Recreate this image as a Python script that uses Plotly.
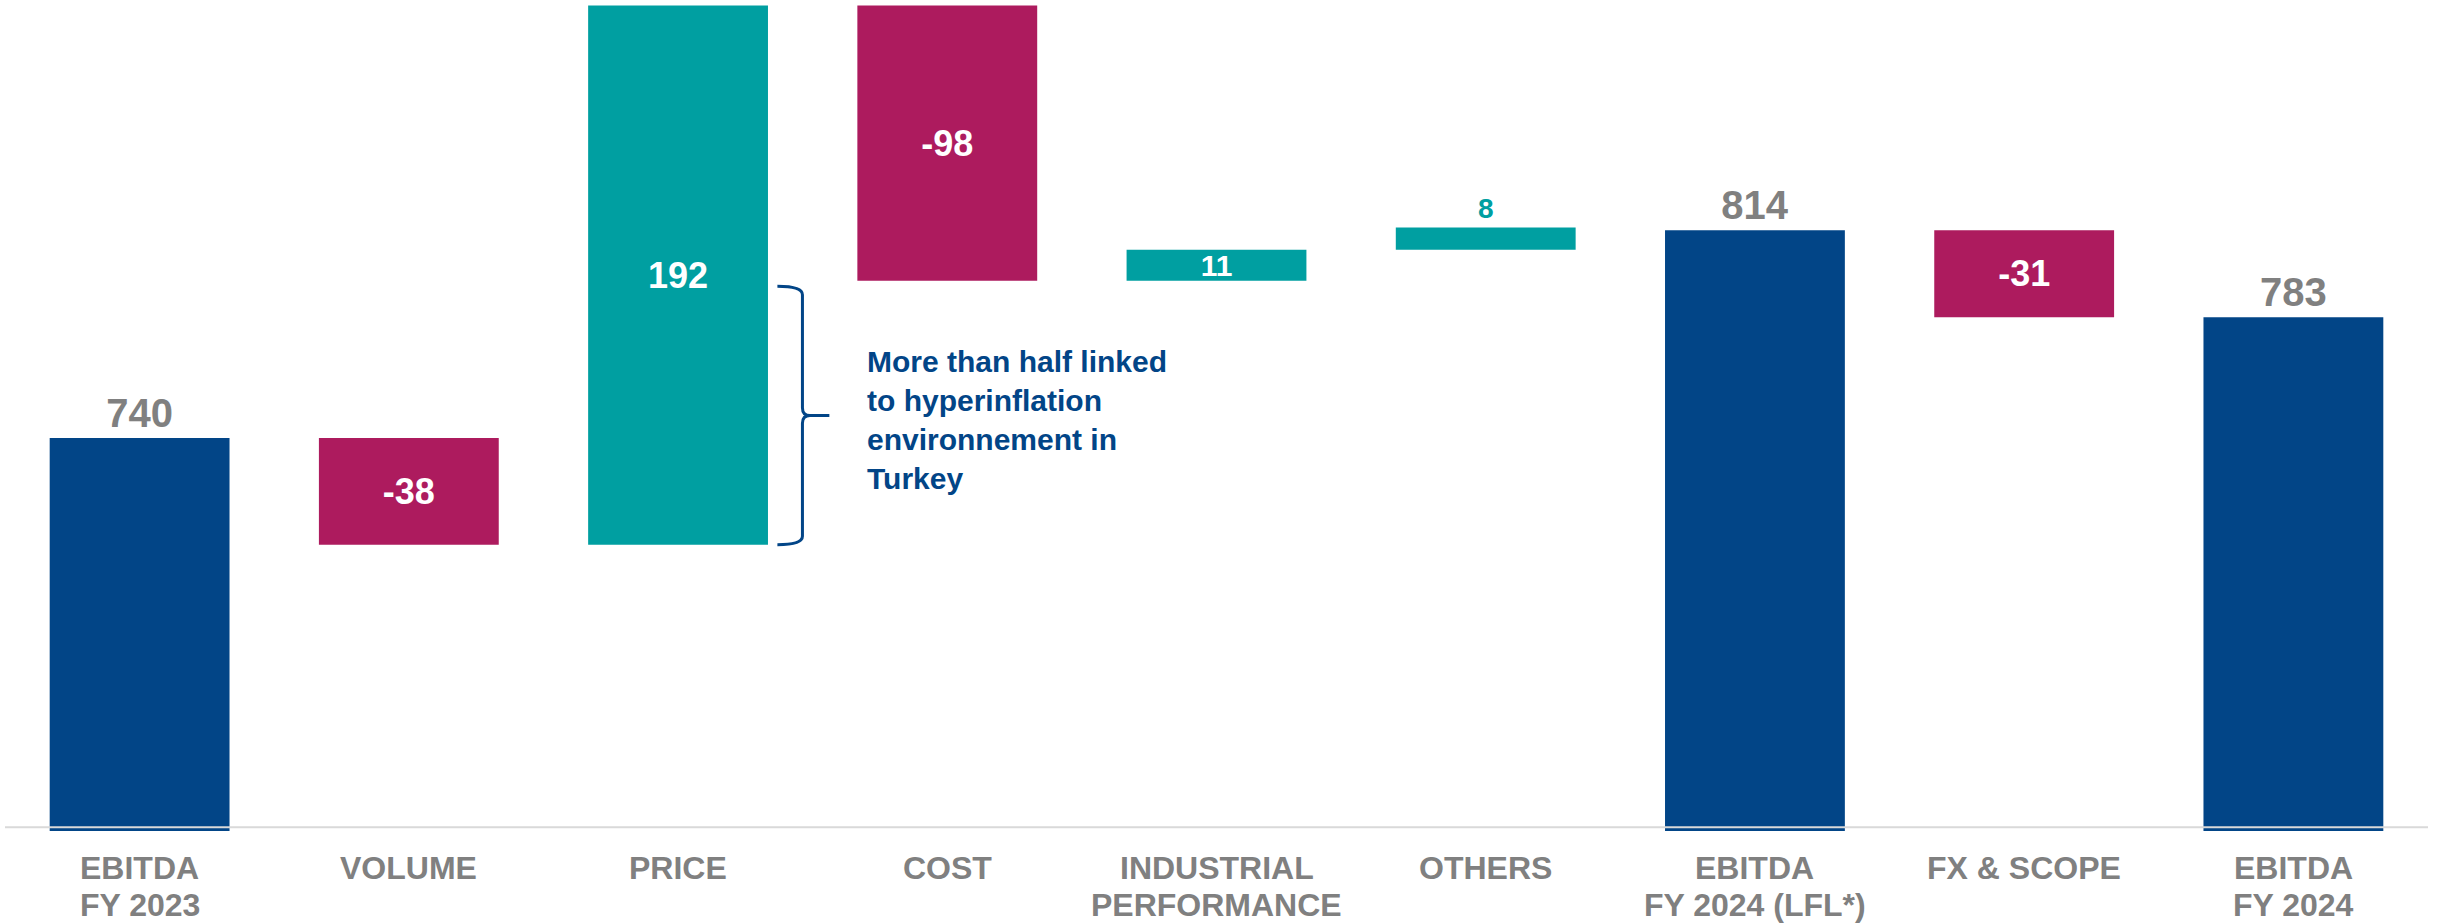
import plotly.graph_objects as go

# ---------------- data ----------------
categories = ["EBITDA<br>FY 2023", "VOLUME", "PRICE", "COST",
              "INDUSTRIAL<br>PERFORMANCE", "OTHERS",
              "EBITDA<br>FY 2024 (LFL*)", "FX & SCOPE", "EBITDA<br>FY 2024"]
values = [740, -38, 192, -98, 11, 8, 814, -31, 783]
measures = ["absolute", "relative", "relative", "relative", "relative",
            "relative", "absolute", "relative", "absolute"]
value_labels = [str(v) for v in values]
note_text = "More than half linked<br>to hyperinflation<br>environnement in<br>Turkey"
brace_low, brace_high = 702, 794   # span of the PRICE bar covered by the brace

# ---------------- style ----------------
NAVY = "#024587"
TEAL = "#009FA1"
MAGENTA = "#AD1B5E"
GRAY = "#808080"
FONT = "Liberation Sans, Arial, sans-serif"

label_pos = ["outside", "inside", "inside", "inside", "inside",
             "outside", "outside", "inside", "outside"]
label_color = [GRAY, "white", "white", "white", "white", TEAL, GRAY, "white", GRAY]
label_size = [40, 36, 36, 36, 30, 28, 40, 36, 40]

x = list(range(len(categories)))

fig = go.Figure(go.Waterfall(
    x=x, y=values, measure=measures,
    text=value_labels, textposition=label_pos,
    textfont=dict(family=FONT, color=label_color, size=label_size, weight="bold"),
    constraintext="none",
    insidetextanchor="middle",
    textangle=0,
    width=0.668,
    increasing=dict(marker=dict(color=TEAL)),
    decreasing=dict(marker=dict(color=MAGENTA)),
    totals=dict(marker=dict(color=NAVY)),
    connector=dict(visible=False),
    hoverinfo="skip",
    cliponaxis=False,
))

# category labels (two lines each, tight spacing)
annotations = []
for i, cat in enumerate(categories):
    for j, line in enumerate(cat.split("<br>")):
        annotations.append(dict(
            x=i, xref="x", y=0, yref="paper", yanchor="middle", xanchor="center",
            yshift=-37 - 37 * j, text=line, showarrow=False,
            font=dict(family=FONT, size=32, color=GRAY, weight="bold")))

# note next to the brace
mid = (brace_low + brace_high) / 2
annotations.append(dict(
    x=2.693, xref="x", y=mid - 1.5, yref="y", xanchor="left", yanchor="middle",
    align="left", text=note_text, showarrow=False,
    font=dict(family=FONT, size=30, color=NAVY, weight="bold")))

# brace path
xs, xv, xt = 2.369, 2.462, 2.562
brace = (f"M {xs},{brace_high} Q {xv},{brace_high} {xv},{brace_high-3} "
         f"L {xv},{mid+2.8} Q {xv},{mid} {xv+0.028},{mid} L {xt},{mid} "
         f"M {xv+0.028},{mid} Q {xv},{mid} {xv},{mid-2.8} "
         f"L {xv},{brace_low+3} Q {xv},{brace_low} {xs},{brace_low}")

shapes = [
    dict(type="path", path=brace, xref="x", yref="y",
         line=dict(color=NAVY, width=3)),
    dict(type="line", xref="paper", yref="y", x0=0, x1=1, y0=601.3, y1=601.3,
         line=dict(color="#D9D9D9", width=2), layer="above"),
]

fig.update_layout(
    width=2440, height=923,
    margin=dict(l=5, r=12, t=0, b=92),
    plot_bgcolor="white", paper_bgcolor="white",
    showlegend=False,
    xaxis=dict(range=[-0.5, 8.5], showticklabels=False, showgrid=False,
               zeroline=False, showline=False, fixedrange=True),
    yaxis=dict(range=[600, 896], showticklabels=False, showgrid=False,
               zeroline=False, showline=False, fixedrange=True),
    annotations=annotations,
    shapes=shapes,
)

fig.write_html("out.html",
               config={"displayModeBar": False},
               post_script="document.body.style.margin='0';document.body.style.overflow='hidden';")
